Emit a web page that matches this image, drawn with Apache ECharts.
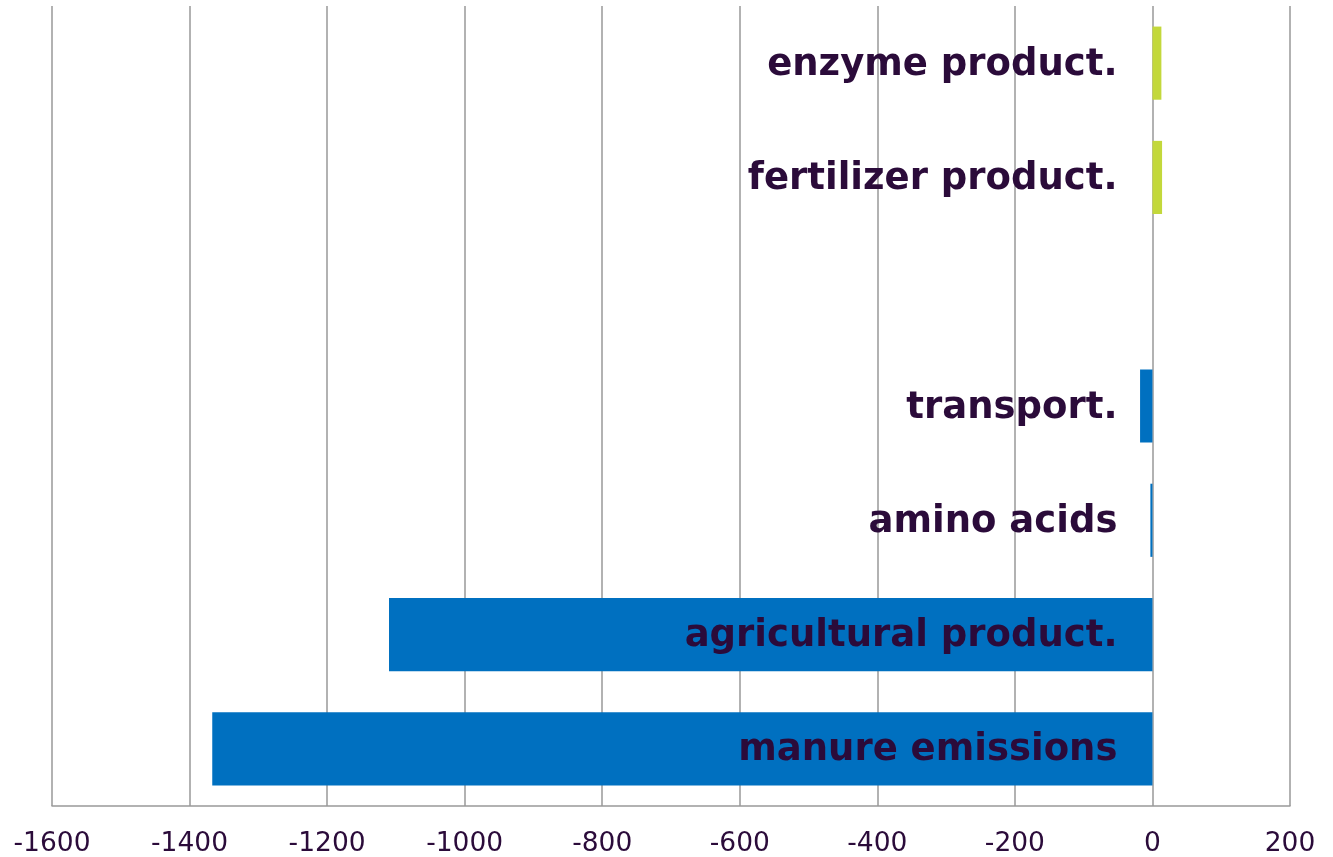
<!DOCTYPE html>
<html lang="en">
  <head>
    <meta charset="UTF-8" />
    <script src="https://cdn.jsdelivr.net/npm/echarts@6/dist/echarts.min.js"></script>
    <title>Emissions by source</title>
    <style>
      html, body { margin: 0; padding: 0; background: #fff; }
      #chart { width: 1333px; height: 857px; }
    </style>
  </head>
  <body>
    <div id="chart"></div>
  </body>
  <script>
    // data, bottom to top
    const categories = ["manure emissions", "agricultural product.", "amino acids", "transport.", "", "fertilizer product.", "enzyme product."];
    const negativeValues = [-1367, -1110, -3, -18, null, null, null];
    const positiveValues = [null, null, null, null, null, 14, 13];
    const xTicks = [-1600, 200, 200]; // min, max, interval

    const textColor = "#2b0b3a";
    const gridColor = "#999999";

    // zero-length bars that only carry the category names next to the 0 line
    const labelAnchors = categories.map(() => 0);

    const myChart = echarts.init(document.getElementById("chart"));
    const option = {
      animation: false,
      grid: { left: 52, right: 43, top: 6, bottom: 51, containLabel: false, outerBoundsMode: "none" },
      xAxis: {
        type: "value",
        min: xTicks[0],
        max: xTicks[1],
        interval: xTicks[2],
        axisLine: { show: true, lineStyle: { color: gridColor, width: 1.5 } },
        axisTick: { show: false },
        splitLine: { show: true, lineStyle: { color: gridColor, width: 1.5 } },
        axisLabel: {
          color: textColor, fontSize: 26.5, fontFamily: "DejaVu Sans", margin: 25,
          formatter: (v) => String(v)
        }
      },
      yAxis: {
        type: "category",
        data: categories,
        axisLine: { show: false },
        axisTick: { show: false },
        axisLabel: { show: false }
      },
      series: [
        {
          type: "bar",
          data: negativeValues,
          barWidth: "64%",
          barGap: "-100%",
          itemStyle: { color: "#0070c0" }
        },
        {
          type: "bar",
          data: positiveValues,
          barWidth: "64%",
          barGap: "-100%",
          itemStyle: { color: "#c3d83b" }
        },
        {
          type: "bar",
          data: labelAnchors,
          barWidth: "64%",
          barGap: "-100%",
          z: 10,
          itemStyle: { color: "transparent" },
          label: {
            show: true,
            position: "left",
            distance: 35,
            offset: [0, 2],
            formatter: "{b}",
            color: textColor,
            fontSize: 37,
            fontWeight: "bold",
            fontFamily: "DejaVu Sans"
          }
        }
      ]
    };
    myChart.setOption(option);
  </script>
</html>
